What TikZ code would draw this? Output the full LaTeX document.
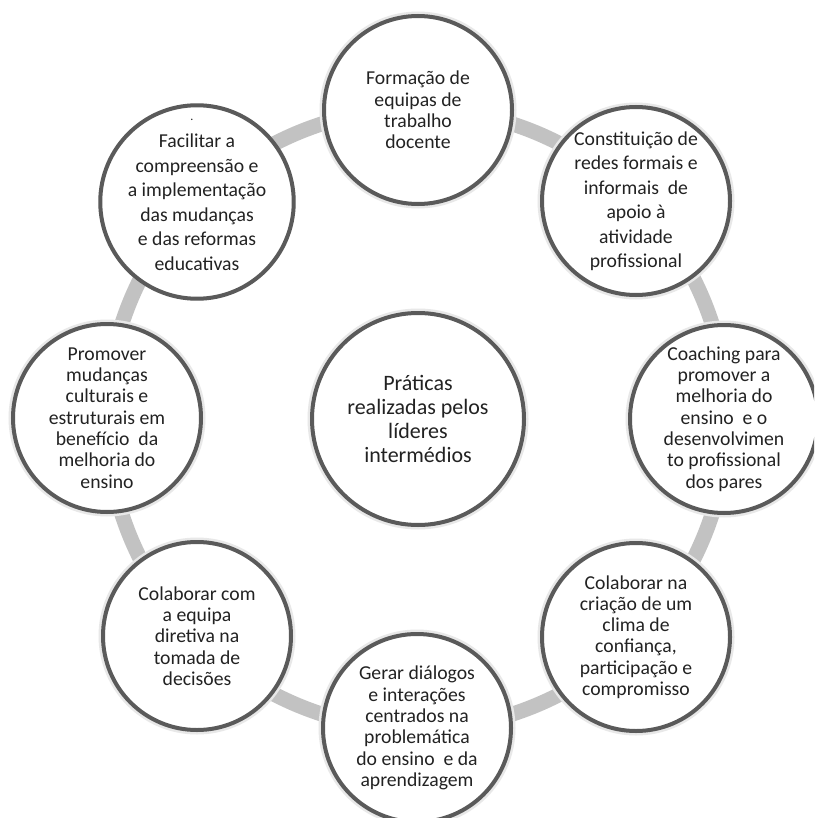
\documentclass[tikz,border=0pt]{standalone}
\usepackage{fontspec}
\setmainfont{Carlito}
\definecolor{ringgray}{HTML}{C2C2C2}
\definecolor{edgegray}{HTML}{5A5A5A}
\definecolor{txt}{HTML}{222222}
\begin{document}
\begin{tikzpicture}[x=1pt,y=-1pt,
  ring/.style={draw=ringgray, line width=15pt},
  halo/.style={draw=black!9, line width=3pt},
  bubble/.style={circle, draw=edgegray, line width=4pt, fill=white,
    minimum size=188pt, inner sep=0pt, align=center, text=txt,
    font=\fontsize{19.7}{21.3}\selectfont},
  widebubble/.style={bubble, font=\fontsize{19.7}{24.5}\selectfont},
  hub/.style={bubble, minimum size=212pt, font=\fontsize{22}{24}\selectfont}]
\useasboundingbox (0,0) rectangle (814,818);
\clip (0,0) rectangle (814,818);
\fill[white] (0,0) rectangle (814,818);

% ring joining the outer practices
\coordinate (c) at (417,419);
\draw[ring] (c) circle[radius=310pt];

% soft edge around each circle
\foreach \x/\y/\rr in {418/110/97, 636/201/97, 724/419/97, 636/637/97, 417/728/97, 197/636/97, 107/418/97, 197/202/97, 418/419/109}
  \draw[halo] (\x,\y) circle[radius=\rr pt];

\node[hub] (hub) at (418,419) {Práticas\\realizadas pelos\\líderes\\intermédios};

\node[bubble] (n1) at (418,110) {Formação de\\equipas de\\trabalho\\docente};
\node[widebubble] (n2) at (636,201) {Constituição de\\redes formais e\\informais\ \ de\\apoio à\\atividade\\profissional};
\node[bubble] (n3) at (724,419) {Coaching para\\promover a\\melhoria do\\ensino\ \ e o\\desenvolvimen\\to profissional\\dos pares};
\node[bubble] (n4) at (636,637) {Colaborar na\\criação de um\\clima de\\confiança,\\participação e\\compromisso};
\node[bubble] (n5) at (417,728) {Gerar diálogos\\e interações\\centrados na\\problemática\\do ensino\ \ e da\\aprendizagem};
\node[bubble] (n6) at (197,636) {Colaborar com\\a equipa\\diretiva na\\tomada de\\decisões};
\node[bubble] (n7) at (107,418) {Promover\\mudanças\\culturais e\\estruturais em\\benefício\ \ da\\melhoria do\\ensino};
\node[widebubble] (n8) at (197,202) {Facilitar a\\compreensão e\\a implementação\\das mudanças\\e das reformas\\educativas};
\node[text=txt, font=\fontsize{12}{12}\selectfont, anchor=base, inner sep=0pt] (mark) at (192,121) {.};
\end{tikzpicture}
\end{document}
